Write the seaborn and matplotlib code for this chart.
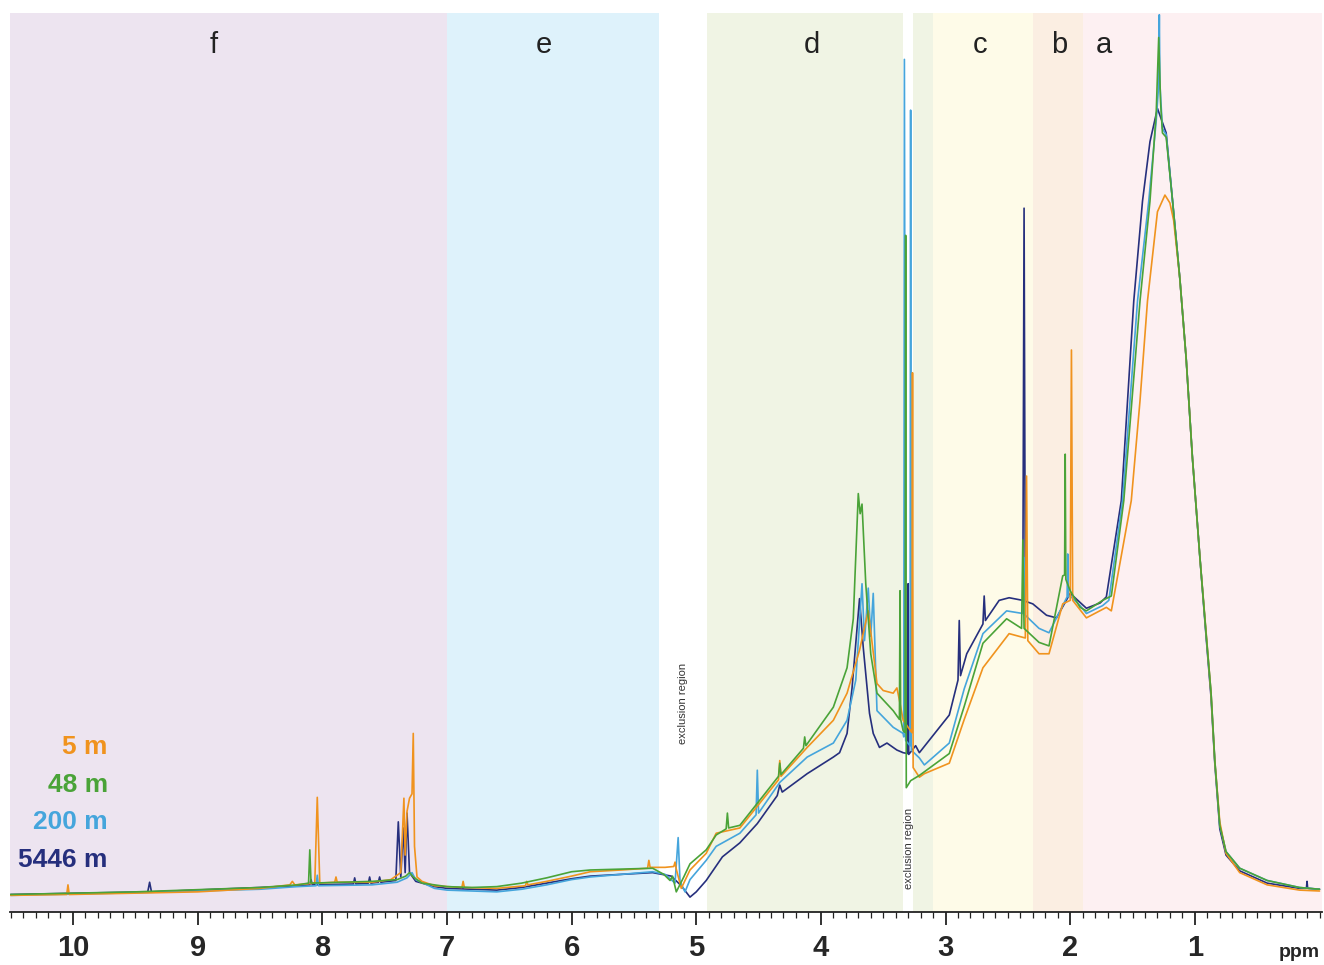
import matplotlib
matplotlib.use("Agg")
import matplotlib.pyplot as plt
from matplotlib.ticker import FixedLocator, MultipleLocator
import seaborn as sns
import pandas as pd

# -----------------------------------------------------
# spectra: (ppm, relative intensity)
# -----------------------------------------------------
spec_5m = [
    (10.50, -0.6), (10.05, -0.5), (10.04, 0.6), (10.03, -0.5), (9.00, -0.2), (8.50, 0.2),
    (8.26, 0.6), (8.24, 1.0), (8.22, 0.6), (8.06, 0.8), (8.04, 10.6), (8.02, 0.8),
    (7.90, 0.9), (7.89, 1.5), (7.88, 0.9), (7.60, 0.9), (7.45, 1.2), (7.37, 2.0),
    (7.345, 10.5), (7.335, 4.0), (7.32, 9.0), (7.30, 10.5), (7.28, 11.0), (7.27, 17.9),
    (7.26, 5.0), (7.24, 1.5), (7.20, 1.0), (7.10, 0.5), (6.88, 0.3), (6.87, 1.0),
    (6.86, 0.3), (6.60, 0.2), (6.37, 0.5), (6.36, 1.0), (6.35, 0.6), (6.20, 1.0),
    (6.00, 1.6), (5.85, 2.1), (5.60, 2.3), (5.39, 2.5), (5.38, 3.4), (5.37, 2.6),
    (5.25, 2.6), (5.18, 2.7), (5.17, 3.2), (5.16, 2.4), (5.12, 0.2), (5.05, 2.3),
    (4.92, 4.2), (4.84, 6.5), (4.65, 7.1), (4.34, 12.6), (4.33, 14.8), (4.32, 13.0),
    (4.11, 16.3), (3.90, 19.4), (3.79, 22.5), (3.69, 27.4), (3.62, 31.9), (3.55, 23.6),
    (3.50, 22.8), (3.42, 22.5), (3.39, 23.1), (3.37, 21.7), (3.34, 19.4), (3.27, 18.0),
    (3.265, 59.1), (3.26, 14.0), (3.21, 12.9), (3.17, 13.3), (2.97, 14.5), (2.85, 19.5),
    (2.70, 25.4), (2.49, 29.3), (2.36, 28.8), (2.35, 47.3), (2.34, 28.5), (2.25, 27.0),
    (2.17, 27.0), (2.06, 32.7), (2.00, 33.1), (1.99, 61.7), (1.98, 33.1), (1.87, 31.1),
    (1.71, 32.3), (1.67, 31.9), (1.51, 44.5), (1.44, 55.9), (1.38, 67.3), (1.30, 77.5),
    (1.24, 79.4), (1.20, 78.5), (1.17, 76.5), (1.12, 69.8), (1.07, 60.8), (1.02, 49.5),
    (0.96, 38.1), (0.91, 29.5), (0.87, 22.5), (0.84, 14.8), (0.80, 7.8), (0.75, 4.2),
    (0.64, 2.0), (0.42, 0.6), (0.16, 0.0), (0.00, -0.1),
]

spec_48m = [
    (10.50, -0.5), (9.50, -0.2), (8.50, 0.3), (8.20, 0.6), (8.11, 0.8), (8.10, 4.6),
    (8.09, 0.8), (7.60, 1.0), (7.40, 1.2), (7.33, 1.6), (7.30, 2.0), (7.27, 1.5),
    (7.20, 0.8), (7.00, 0.4), (6.80, 0.3), (6.60, 0.4), (6.40, 0.8), (6.20, 1.4),
    (6.00, 2.1), (5.85, 2.3), (5.60, 2.4), (5.35, 2.5), (5.26, 1.8), (5.21, 1.1),
    (5.19, 1.6), (5.16, -0.2), (5.10, 1.5), (5.05, 3.0), (4.92, 4.6), (4.84, 6.3),
    (4.76, 7.0), (4.75, 8.8), (4.74, 7.1), (4.65, 7.4), (4.45, 11.0), (4.34, 13.0),
    (4.33, 14.5), (4.32, 13.2), (4.14, 16.2), (4.13, 17.5), (4.12, 16.5), (3.90, 20.9),
    (3.79, 25.4), (3.74, 31.0), (3.70, 45.3), (3.685, 43.0), (3.67, 44.1), (3.64, 35.0),
    (3.60, 27.0), (3.55, 22.5), (3.42, 20.5), (3.37, 19.5), (3.365, 34.2), (3.36, 19.5),
    (3.34, 18.2), (3.325, 18.0), (3.32, 74.8), (3.315, 11.7), (3.28, 12.5), (3.21, 13.1),
    (2.97, 15.6), (2.85, 21.0), (2.70, 28.2), (2.51, 31.0), (2.39, 29.9), (2.38, 40.0),
    (2.37, 29.9), (2.25, 28.3), (2.17, 27.9), (2.06, 35.9), (2.045, 36.0), (2.04, 49.8),
    (2.035, 35.5), (2.00, 34.2), (1.92, 32.3), (1.87, 31.9), (1.74, 33.1), (1.67, 33.6),
    (1.57, 44.5), (1.44, 67.3), (1.36, 78.7), (1.31, 88.8), (1.29, 97.4), (1.275, 90.0),
    (1.26, 86.5), (1.23, 86.0), (1.18, 78.9), (1.12, 69.8), (1.07, 60.8), (1.02, 49.5),
    (0.96, 38.1), (0.91, 29.3), (0.87, 22.5), (0.84, 14.8), (0.80, 7.4), (0.75, 4.4),
    (0.64, 2.5), (0.42, 1.1), (0.16, 0.3), (0.00, 0.1),
]

spec_200m = [
    (10.50, -0.6), (9.50, -0.3), (8.50, 0.1), (8.20, 0.4), (8.05, 0.5), (8.04, 1.7),
    (8.03, 0.5), (7.60, 0.6), (7.40, 0.9), (7.32, 1.4), (7.28, 2.0), (7.25, 1.2),
    (7.10, 0.2), (7.00, 0.0), (6.60, -0.2), (6.40, 0.1), (6.20, 0.6), (6.00, 1.2),
    (5.85, 1.5), (5.60, 1.8), (5.35, 2.1), (5.25, 1.8), (5.17, 0.8), (5.145, 6.0),
    (5.13, 1.0), (5.09, -0.2), (5.05, 1.2), (4.92, 3.4), (4.84, 5.0), (4.65, 6.5),
    (4.52, 8.6), (4.51, 13.7), (4.50, 8.8), (4.33, 12.3), (4.11, 15.2), (3.90, 16.8),
    (3.79, 19.4), (3.72, 24.0), (3.67, 35.0), (3.65, 28.5), (3.62, 34.5), (3.60, 29.0),
    (3.58, 33.9), (3.55, 20.5), (3.42, 18.6), (3.34, 17.9), (3.335, 17.5), (3.33, 94.9),
    (3.32, 17.1), (3.285, 16.5), (3.28, 89.1), (3.275, 16.0), (3.21, 15.1), (3.17, 14.3),
    (2.97, 16.8), (2.85, 23.0), (2.70, 29.3), (2.51, 31.9), (2.38, 31.6), (2.37, 38.0),
    (2.36, 31.4), (2.25, 29.9), (2.17, 29.4), (2.06, 32.5), (2.025, 33.5), (2.02, 38.4),
    (2.015, 33.5), (2.00, 33.6), (1.92, 32.5), (1.87, 31.6), (1.74, 32.5), (1.69, 33.1),
    (1.58, 44.5), (1.46, 67.3), (1.37, 78.7), (1.31, 87.9), (1.29, 92.0), (1.285, 100.0),
    (1.28, 92.0), (1.26, 87.0), (1.23, 86.3), (1.18, 78.9), (1.12, 69.8), (1.07, 60.8),
    (1.02, 49.5), (0.96, 38.1), (0.91, 29.3), (0.87, 22.5), (0.84, 14.8), (0.80, 7.4),
    (0.75, 4.4), (0.64, 2.5), (0.42, 1.1), (0.16, 0.3), (0.00, 0.1),
]

spec_5446m = [
    (10.50, -0.5), (9.40, -0.2), (9.385, 0.9), (9.37, -0.2), (8.50, 0.3), (8.20, 0.5),
    (8.10, 0.6), (8.09, 1.2), (8.08, 0.6), (7.75, 0.7), (7.74, 1.4), (7.73, 0.7),
    (7.63, 0.8), (7.62, 1.5), (7.61, 0.8), (7.55, 0.9), (7.54, 1.5), (7.53, 0.9),
    (7.41, 1.1), (7.39, 7.8), (7.37, 1.5), (7.35, 7.1), (7.335, 2.0), (7.32, 8.8),
    (7.30, 2.0), (7.25, 1.0), (7.10, 0.4), (7.00, 0.2), (6.60, 0.0), (6.40, 0.3),
    (6.20, 0.8), (6.00, 1.3), (5.85, 1.6), (5.60, 1.8), (5.35, 2.0), (5.20, 1.6),
    (5.12, 0.5), (5.05, -0.8), (5.00, -0.2), (4.92, 1.1), (4.79, 3.8), (4.65, 5.4),
    (4.51, 7.6), (4.35, 10.8), (4.33, 12.0), (4.31, 11.2), (4.11, 13.3), (3.90, 15.2),
    (3.85, 15.7), (3.79, 17.9), (3.75, 23.1), (3.69, 33.3), (3.66, 27.7), (3.61, 20.2),
    (3.58, 17.9), (3.53, 16.3), (3.47, 16.8), (3.39, 16.0), (3.34, 15.7), (3.305, 15.6),
    (3.30, 35.0), (3.295, 15.5), (3.24, 16.5), (3.21, 15.7), (2.97, 20.0), (2.90, 24.0),
    (2.89, 30.8), (2.88, 24.5), (2.83, 27.0), (2.70, 30.4), (2.69, 33.6), (2.68, 30.8),
    (2.57, 33.1), (2.49, 33.4), (2.38, 33.1), (2.37, 77.9), (2.36, 33.0), (2.30, 32.7),
    (2.19, 31.4), (2.11, 31.1), (2.00, 33.9), (1.87, 32.2), (1.76, 32.8), (1.71, 33.5),
    (1.59, 44.5), (1.49, 67.3), (1.42, 78.7), (1.36, 85.5), (1.30, 89.3), (1.23, 86.5),
    (1.18, 78.9), (1.12, 69.8), (1.07, 60.8), (1.02, 49.5), (0.96, 38.1), (0.91, 29.0),
    (0.87, 22.0), (0.84, 14.5), (0.80, 7.0), (0.75, 4.0), (0.64, 2.2), (0.42, 0.8),
    (0.16, 0.2), (0.105, 0.2), (0.10, 1.0), (0.095, 0.2), (0.00, 0.1),
]

samples = ["5 m", "48 m", "200 m", "5446 m"]
sample_colors = ["#f0931e", "#4aa338", "#45a5dc", "#262f7d"]
draw_order = ["5446 m", "200 m", "5 m", "48 m"]

# integration regions a-f
region_labels = ["f", "e", "d", "c", "b", "a"]
region_edges = [(10.6, 7.0), (7.0, 5.3), (4.91, 3.1), (3.1, 2.3), (2.3, 1.9), (1.9, -0.1)]
region_label_x = [8.87, 6.22, 4.07, 2.72, 2.09, 1.73]
region_colors = ["#ede4f0", "#def2fb", "#f0f4e4", "#fefbe8", "#fbeee2", "#fdf0f2"]
exclusion_edges = [(5.3, 4.91), (3.345, 3.26)]
exclusion_text_pos = [(5.11, 21.3), (3.29, 4.8)]

# =====================================================
# build long-form table
# =====================================================
frames = []
for name, spec in zip(samples, [spec_5m, spec_48m, spec_200m, spec_5446m]):
    d = pd.DataFrame(spec, columns=["ppm", "intensity"])
    d["sample"] = name
    frames.append(d)
df = pd.concat(frames, ignore_index=True)

sns.set_style("white")
plt.rcParams["font.family"] = ["Liberation Sans", "DejaVu Sans"]

fig = plt.figure(figsize=(13.24, 9.65), dpi=100)
ax = fig.add_axes([10 / 1324, 53 / 965, 1312 / 1324, 899 / 965])

for (x0, x1), c in zip(region_edges, region_colors):
    ax.axvspan(x0, x1, color=c, lw=0, zorder=0)
for x0, x1 in exclusion_edges:
    ax.axvspan(x0, x1, color="white", lw=0, zorder=0.5)

sns.lineplot(data=df, x="ppm", y="intensity", hue="sample", hue_order=draw_order,
             palette=dict(zip(samples, sample_colors)), estimator=None, sort=False,
             lw=1.2, legend=False, ax=ax)

ax.set_xlim(10.505, -0.02)
ax.set_ylim(-2.5, 100.2)

# region letters
for lab, x in zip(region_labels, region_label_x):
    ax.text(x, 96.6, lab, ha="center", va="center", fontsize=21, color="#222222")

# exclusion notes
for x, y in exclusion_text_pos:
    ax.text(x, y, "exclusion region", rotation=90, ha="center", va="center",
            fontsize=8, color="#333333")

# sample labels (legend)
legend_y = [16.3, 12.0, 7.8, 3.4]
for name, c, y in zip(samples, sample_colors, legend_y):
    ax.text(9.72, y, name, ha="right", va="center", fontsize=19,
            fontweight="bold", color=c)

# axis styling
for s in ["left", "top", "right"]:
    ax.spines[s].set_visible(False)
ax.spines["bottom"].set_color("#222222")
ax.spines["bottom"].set_linewidth(1.3)
ax.spines["bottom"].set_zorder(5)
ax.set_yticks([])
ax.set_ylabel("")
ax.set_xlabel("")

major = list(range(1, 11))
ax.xaxis.set_major_locator(FixedLocator(major))
ax.xaxis.set_minor_locator(MultipleLocator(0.1))
ax.set_xticklabels([str(m) for m in major], fontsize=21, fontweight="bold")
ax.tick_params(axis="x", which="major", direction="out", length=9, width=1.3,
               color="#222222", pad=7, bottom=True)
ax.tick_params(axis="x", which="minor", direction="out", length=4.5, width=0.9,
               color="#222222", bottom=True)

ax.text(0.998, -0.045, "ppm", transform=ax.transAxes, ha="right", va="center",
        fontsize=14, fontweight="bold")

fig.savefig("out.png", dpi=100)
